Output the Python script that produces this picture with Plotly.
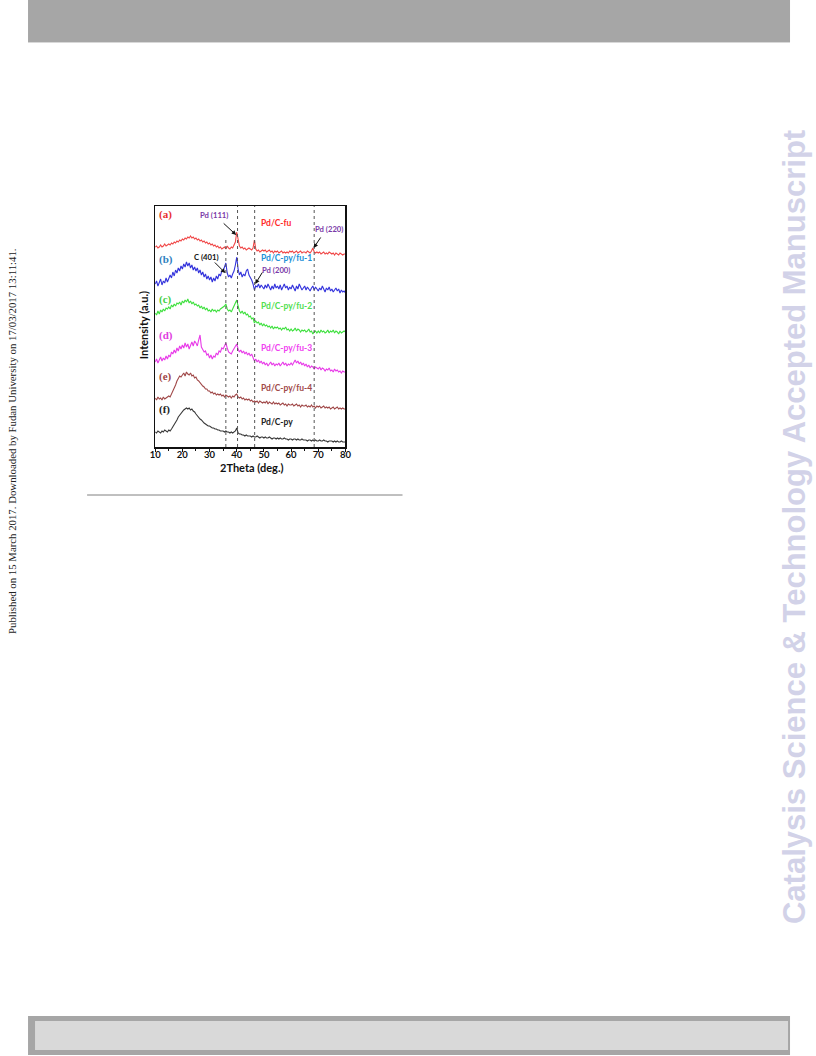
import plotly.graph_objects as go

W, H = 816, 1056

# ---------------- data ----------------
two_theta = [10 + 0.5 * i for i in range(141)]

pd_c_fu = [
    200, 201, 199, 200, 202, 200, 201, 203, 201, 202,
    203, 202, 204, 203, 205, 204, 206, 205, 207, 206,
    208, 207, 209, 208, 210, 209, 211, 209, 210, 208,
    209, 207, 208, 206, 207, 205, 206, 204, 205, 203,
    204, 202, 203, 201, 202, 200, 201, 199, 200, 198,
    199, 200, 198, 201, 199, 198, 200, 199, 202, 205,
    215, 206, 201, 199, 200, 198, 199, 197, 198, 199,
    198, 197, 199, 207, 198, 196, 197, 195, 196, 197,
    196, 197, 195, 196, 197, 195, 196, 194, 196, 195,
    196, 194, 195, 196, 194, 195, 194, 195, 194, 196,
    195, 196, 194, 195, 196, 194, 195, 196, 194, 195,
    195, 194, 196, 195, 194, 196, 199, 195, 194, 195,
    194, 195, 193, 194, 195, 193, 194, 193, 195, 194,
    193, 194, 192, 194, 193, 192, 194, 193, 192, 193,
    193,
]
pd_c_py_fu_1 = [
    163, 166, 161, 165, 168, 162, 166, 164, 169, 165,
    168, 172, 169, 175, 171, 177, 174, 179, 176, 181,
    178, 183, 180, 185, 181, 184, 179, 182, 177, 180,
    176, 179, 174, 177, 172, 175, 170, 173, 168, 171,
    167, 170, 165, 169, 166, 171, 168, 173, 171, 176,
    176, 180, 184, 174, 170, 172, 169, 173, 176, 182,
    190, 178, 172, 175, 170, 173, 171, 176, 178, 172,
    170, 167, 163, 157, 161, 160, 163, 159, 162, 160,
    158, 162, 159, 163, 160, 157, 161, 158, 163, 159,
    161, 158, 162, 157, 160, 163, 159, 161, 157, 160,
    158, 162, 159, 156, 161, 158, 163, 160, 157, 159,
    161, 157, 160, 158, 156, 159, 161, 157, 160, 158,
    156, 159, 157, 161, 158, 155, 159, 157, 160, 156,
    158, 155, 157, 159, 156, 158, 154, 157, 155, 156,
    154,
]
pd_c_py_fu_2 = [
    134, 132, 136, 133, 137, 135, 138, 136, 139, 138,
    140, 138, 142, 140, 143, 141, 144, 143, 145, 142,
    146, 144, 147, 145, 148, 144, 146, 143, 145, 142,
    143, 141, 142, 139, 141, 138, 140, 137, 139, 136,
    137, 135, 138, 136, 137, 135, 137, 136, 138, 139,
    140, 141, 143, 138, 136, 137, 135, 138, 140, 143,
    147, 141, 136, 134, 136, 133, 135, 132, 133, 130,
    131, 128, 129, 124, 126, 124, 125, 122, 124, 121,
    123, 121, 122, 120, 121, 119, 121, 118, 120, 119,
    120, 118, 119, 117, 119, 118, 120, 117, 118, 116,
    118, 116, 117, 119, 116, 118, 117, 115, 117, 116,
    117, 115, 116, 118, 115, 116, 113, 115, 116, 114,
    116, 114, 117, 115, 116, 114, 115, 117, 114, 116,
    115, 117, 114, 116, 115, 113, 116, 114, 115, 116,
    115,
]
pd_c_py_fu_3 = [
    85, 88, 84, 87, 90, 86, 89, 87, 91, 88,
    92, 90, 95, 93, 97, 94, 99, 96, 101, 98,
    102, 99, 104, 100, 103, 98, 102, 105, 101, 106,
    104, 101, 107, 112, 100, 97, 95, 96, 92, 93,
    89, 92, 88, 91, 90, 94, 92, 96, 95, 99,
    98, 101, 104, 99, 95, 94, 93, 96, 98, 100,
    103, 98, 95, 97, 94, 96, 93, 95, 92, 94,
    91, 93, 90, 86, 88, 85, 87, 84, 86, 83,
    85, 82, 84, 81, 83, 85, 82, 84, 81, 83,
    82, 84, 81, 83, 85, 82, 84, 81, 83, 82,
    84, 82, 85, 87, 84, 86, 83, 85, 82, 84,
    81, 83, 80, 82, 79, 81, 80, 78, 80, 79,
    78, 80, 77, 79, 78, 76, 78, 77, 79, 76,
    77, 75, 78, 76, 77, 75, 76, 74, 76, 75,
    75,
]
pd_c_py_fu_4 = [
    49, 47, 50, 48, 49, 47, 50, 48, 49, 50,
    51, 50, 53, 55, 58, 62, 66, 69, 71, 70,
    72, 74, 71, 75, 73, 72, 74, 71, 72, 69,
    70, 67, 66, 64, 63, 61, 60, 58, 58, 56,
    56, 54, 55, 53, 54, 52, 53, 52, 53, 51,
    52, 50, 52, 51, 50, 51, 49, 51, 50, 52,
    53, 50, 49, 50, 48, 49, 47, 48, 47, 48,
    46, 47, 45, 46, 45, 46, 44, 46, 45, 44,
    45, 44, 46, 43, 45, 44, 43, 45, 43, 44,
    43, 44, 42, 43, 44, 42, 43, 41, 43, 42,
    42, 43, 41, 42, 43, 41, 42, 40, 42, 41,
    41, 42, 40, 41, 40, 42, 40, 41, 39, 41,
    40, 41, 39, 40, 41, 39, 40, 39, 40, 38,
    39, 40, 38, 39, 40, 38, 39, 38, 39, 38,
    38,
]
pd_c_py = [
    15, 14, 16, 15, 14, 16, 15, 17, 16, 15,
    17, 16, 18, 20, 22, 25, 27, 30, 32, 34,
    35, 37, 38, 39, 38, 39, 37, 38, 36, 35,
    33, 31, 30, 28, 27, 25, 24, 23, 22, 21,
    21, 20, 19, 19, 18, 18, 17, 17, 16, 16,
    16, 15, 16, 15, 15, 14, 15, 14, 15, 16,
    19, 14, 13, 13, 12, 12, 11, 12, 11, 11,
    11, 10, 11, 10, 10, 11, 10, 9, 10, 10,
    9, 10, 9, 9, 10, 9, 8, 9, 9, 8,
    9, 8, 9, 8, 8, 9, 8, 8, 7, 8,
    8, 7, 8, 8, 7, 8, 7, 7, 8, 7,
    7, 7, 6, 7, 7, 6, 7, 6, 7, 6,
    6, 7, 6, 6, 7, 6, 6, 5, 6, 6,
    6, 5, 6, 5, 6, 5, 5, 6, 5, 5,
    5,
]

series_names = ["Pd/C-fu", "Pd/C-py/fu-1", "Pd/C-py/fu-2", "Pd/C-py/fu-3", "Pd/C-py/fu-4", "Pd/C-py"]
series_values = [pd_c_fu, pd_c_py_fu_1, pd_c_py_fu_2, pd_c_py_fu_3, pd_c_py_fu_4, pd_c_py]
series_tags = ["(a)", "(b)", "(c)", "(d)", "(e)", "(f)"]

ref_line_pos = [36.0, 40.3, 46.6, 68.5]
ref_line_top = [209, 241, 241, 241]

x_ticks = [10, 20, 30, 40, 50, 60, 70, 80]

# ---------------- styles ----------------
line_colors = ["#f04848", "#3434dc", "#3ee03e", "#e83ce8", "#a04848", "#3a3a3a"]
tag_colors = ["#e83030", "#2f80c0", "#44d044", "#e040e0", "#a04444", "#222222"]
name_colors = ["#ff2a2a", "#2090d8", "#50e050", "#f040f0", "#a04848", "#222222"]
name_y_px = [223, 258, 306, 348, 388, 422]
tag_y_px = [214, 259, 299, 336, 377, 410]

PLOT_L, PLOT_R, PLOT_T, PLOT_B = 155, 345, 206, 447

# horizontal correction for the capture (observed x ~= 0.984*x + 6)
XS, XB = 0.984, 6.0


def px(xp):
    return ((xp - XB) / XS) / W


def py(yp):
    return 1 - yp / H


fig = go.Figure()
for name, vals, col in zip(series_names, series_values, line_colors):
    fig.add_trace(go.Scatter(x=two_theta, y=vals, mode="lines", name=name,
                             line=dict(color=col, width=1.1), showlegend=False,
                             hoverinfo="skip"))

shapes = []
for xpos, top in zip(ref_line_pos, ref_line_top):
    shapes.append(dict(type="line", xref="x", yref="y", x0=xpos, x1=xpos, y0=0, y1=top,
                       line=dict(color="#555555", width=1, dash="dot")))

# page decorations
shapes += [
    dict(type="rect", xref="paper", yref="paper", x0=px(28), x1=px(789), y0=py(42), y1=py(0),
         fillcolor="#a6a6a6", line=dict(width=0), layer="below"),
    dict(type="line", xref="paper", yref="paper", x0=px(28), x1=px(789), y0=py(42.5), y1=py(42.5),
         line=dict(color="#d8d8d8", width=1)),
    dict(type="rect", xref="paper", yref="paper", x0=px(28), x1=px(789), y0=py(1055), y1=py(1016),
         fillcolor="#a6a6a6", line=dict(width=0), layer="below"),
    dict(type="rect", xref="paper", yref="paper", x0=px(35), x1=px(787), y0=py(1050), y1=py(1021),
         fillcolor="#d9d9d9", line=dict(width=0), layer="below"),
    dict(type="line", xref="paper", yref="paper", x0=px(87), x1=px(402), y0=py(495), y1=py(495),
         line=dict(color="#808080", width=1)),
]

ann = []
lab_font = "Lato"
for tag, col, yp in zip(series_tags, tag_colors, tag_y_px):
    ann.append(dict(text="<b>%s</b>" % tag, xref="paper", yref="paper", x=px(157), y=py(yp),
                    xanchor="left", yanchor="middle", showarrow=False,
                    font=dict(family="Liberation Serif", size=11, color=col)))
for name, col, yp in zip(series_names, name_colors, name_y_px):
    ann.append(dict(text="<b>%s</b>" % name, xref="paper", yref="paper", x=px(259), y=py(yp),
                    xanchor="left", yanchor="middle", showarrow=False,
                    font=dict(family=lab_font, size=8.5, color=col)))

purple = "#7a3aa8"
peak_labels = [
    ("Pd (111)", 198, 215, purple),
    ("Pd (220)", 313, 229, purple),
    ("Pd (200)", 260, 270, purple),
    ("C (401)", 192, 257, "#111111"),
]
for t, xl, yl, c in peak_labels:
    ann.append(dict(text="<b>%s</b>" % t, xref="paper", yref="paper", x=px(xl), y=py(yl),
                    xanchor="left", yanchor="middle", showarrow=False,
                    font=dict(family=lab_font, size=7.7, color=c)))

# arrows (head in data coords, tail offset in pixels)
arrows = [(39.8, 212, -14, -13), (68.3, 199, 8, -12), (46.8, 163, 8, -13), (35.8, 174, -12, -12)]
for xh, yh, axo, ayo in arrows:
    ann.append(dict(text="", x=xh, y=yh, xref="x", yref="y", ax=axo, ay=ayo, showarrow=True,
                    arrowhead=2, arrowsize=0.9, arrowwidth=1, arrowcolor="#111111"))

# axis titles
ann.append(dict(text="<b>2Theta (deg.)</b>", xref="paper", yref="paper", x=px(252), y=py(467),
                xanchor="center", yanchor="middle", showarrow=False,
                font=dict(family=lab_font, size=11, color="#111111")))
ann.append(dict(text="<b>Intensity (a.u.)</b>", xref="paper", yref="paper", x=px(143), y=py(325),
                xanchor="center", yanchor="middle", showarrow=False, textangle=-90,
                font=dict(family=lab_font, size=11, color="#111111")))

# page side texts
ann.append(dict(text="Published on 15 March 2017. Downloaded by Fudan University on 17/03/2017 13:11:41.",
                xref="paper", yref="paper", x=px(12), y=py(441), xanchor="center", yanchor="middle",
                showarrow=False, textangle=-90,
                font=dict(family="Liberation Serif", size=10.8, color="#222222")))
ann.append(dict(text="<b>Catalysis Science &amp; Technology Accepted Manuscript</b>",
                xref="paper", yref="paper", x=px(793), y=py(527), xanchor="center", yanchor="middle",
                showarrow=False, textangle=-90,
                font=dict(family="Liberation Sans", size=31, color="#d2d2e8")))

fig.update_layout(
    width=W, height=H, margin=dict(l=0, r=0, t=0, b=0),
    paper_bgcolor="white", plot_bgcolor="white",
    shapes=shapes, annotations=ann, hovermode=False,
    xaxis=dict(domain=[px(PLOT_L), px(PLOT_R)], range=[10, 80], tickvals=x_ticks,
               ticktext=["<b>%d</b>" % v for v in x_ticks],
               ticks="outside", ticklen=3, tickwidth=1, tickcolor="#111111",
               ticklabelstandoff=-5,
               minor=dict(ticks="outside", ticklen=2, dtick=5, tickcolor="#111111"),
               showline=True, linecolor="#111111", linewidth=1.5, mirror=True,
               showgrid=False, zeroline=False,
               tickfont=dict(family=lab_font, size=9.5, color="#111111")),
    yaxis=dict(domain=[py(PLOT_B), py(PLOT_T)], range=[0, 241], showticklabels=False, ticks="",
               showline=True, linecolor="#111111", linewidth=1.5, mirror=True,
               showgrid=False, zeroline=False),
)

fig.write_html(
    "out.html",
    config={"displayModeBar": False, "staticPlot": True},
    post_script="document.body.style.margin='0';document.body.style.padding='0';"
                "document.documentElement.style.overflow='hidden';",
)
